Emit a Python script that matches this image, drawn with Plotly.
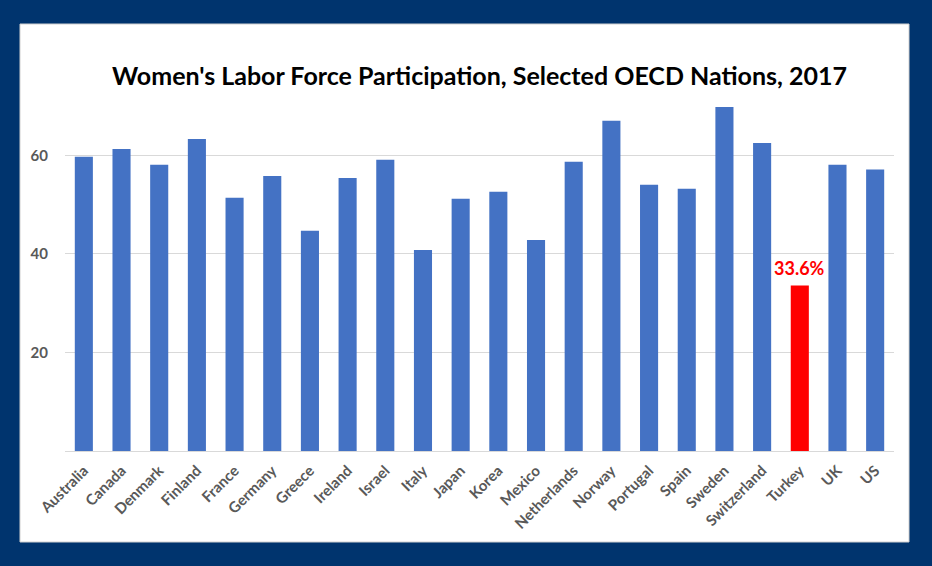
import plotly.graph_objects as go

countries = ["Australia", "Canada", "Denmark", "Finland", "France", "Germany", "Greece",
             "Ireland", "Israel", "Italy", "Japan", "Korea", "Mexico", "Netherlands",
             "Norway", "Portugal", "Spain", "Sweden", "Switzerland", "Turkey", "UK", "US"]
values = [59.7, 61.3, 58.1, 63.3, 51.4, 55.8, 44.7,
          55.4, 59.1, 40.8, 51.2, 52.6, 42.8, 58.7,
          67.0, 54.0, 53.2, 69.8, 62.5, 33.6, 58.1, 57.1]
highlight = "Turkey"
y_ticks = [20, 40, 60]
title_text = "Women's Labor Force Participation, Selected OECD Nations, 2017"

colors = ["#FF0000" if c == highlight else "#4472C4" for c in countries]

fig = go.Figure()
fig.add_trace(go.Bar(x=countries, y=values, marker=dict(color=colors, line=dict(width=0)),
                     hoverinfo="x+y"))

hi_idx = countries.index(highlight)
fig.add_annotation(x=highlight, y=values[hi_idx], text=f"{values[hi_idx]}%",
                   showarrow=False, yanchor="bottom", yshift=4,
                   font=dict(family="Lato", size=18, color="#FF0000", weight="bold"))

W, H = 932, 566
L, R, T, B = 65, 38, 106, 115
pw, ph = W - L - R, H - T - B
def px_x(p): return (p - L) / pw
def px_y(p): return (H - B - p) / ph

fig.add_shape(type="rect", xref="paper", yref="paper", layer="below",
              x0=px_x(20), x1=px_x(909), y0=px_y(542), y1=px_y(24),
              fillcolor="white", line=dict(color="#D0D0D0", width=1))

fig.update_layout(
    width=W, height=H,
    margin=dict(l=L, r=R, t=T, b=B, pad=0),
    paper_bgcolor="#00346E",
    plot_bgcolor="white",
    bargap=0.52,
    showlegend=False,
    title=dict(text=title_text, x=0.5, xref="paper", xanchor="center",
               y=1 - 76 / H, yanchor="middle",
               font=dict(family="Lato", size=25, color="#000000", weight="bold")),
    xaxis=dict(tickangle=-45, tickfont=dict(family="Lato", size=15, color="#595959", weight="bold"),
               showline=True, linecolor="#D9D9D9", linewidth=1, ticks="", showgrid=False,
               ticklabelstandoff=4),
    yaxis=dict(range=[0, 70], tickvals=y_ticks, showgrid=True, gridcolor="#D9D9D9",
               gridwidth=1, zeroline=False, ticks="", ticklabelstandoff=16,
               tickfont=dict(family="Lato", size=15, color="#595959", weight="bold")),
)

fig.write_html("out.html", config={"displayModeBar": False},
               post_script="document.body.style.margin='0';document.body.style.background='#00346E';")
